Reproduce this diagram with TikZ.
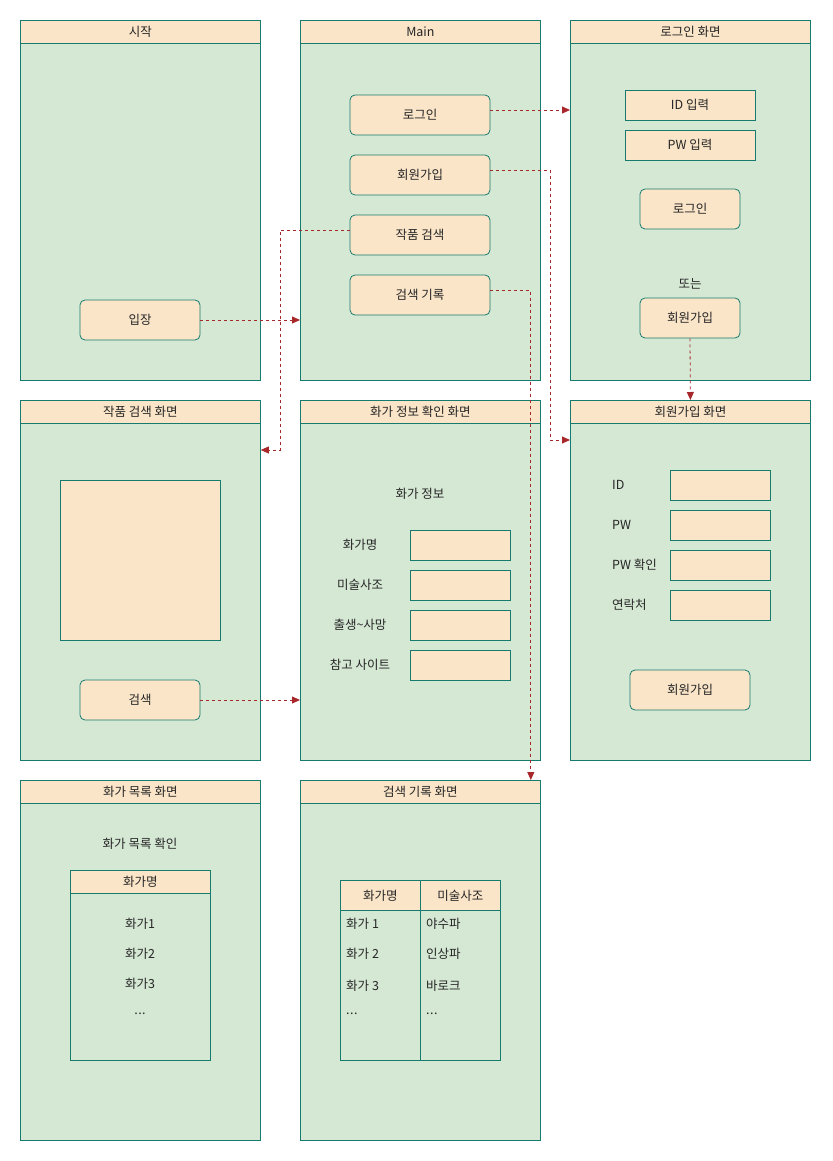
\documentclass[tikz,border=0pt]{standalone}
\usepackage{fontspec}
\setmainfont{Noto Sans CJK KR}
\usetikzlibrary{arrows.meta,positioning}
\definecolor{scrfill}{HTML}{D5E8D4}
\definecolor{scrline}{HTML}{167A6E}
\definecolor{btnfill}{HTML}{FAE5C8}
\definecolor{linkred}{HTML}{A8272A}
\newcommand{\etcdots}{.\kern0.5pt.\kern0.5pt.}
\tikzset{
  screen/.style={draw=scrline, fill=scrfill, line width=0.8pt, minimum width=240pt, minimum height=360pt, anchor=north west, inner sep=0pt},
  title/.style={draw=scrline, fill=btnfill, line width=0.8pt, minimum width=240pt, minimum height=23pt, anchor=north west, inner sep=0pt},
  btn/.style={draw=scrline, fill=btnfill, rounded corners=5pt, line width=0.8pt, minimum height=40pt, inner sep=0pt},
  field/.style={draw=scrline, fill=btnfill, line width=0.8pt, minimum width=100pt, minimum height=30pt, inner sep=0pt},
  cell/.style={draw=scrline, line width=0.8pt, anchor=north west, inner sep=0pt},
  lbl/.style={inner sep=0pt},
  link/.style={draw=linkred, dash pattern=on 3pt off 3pt, line width=0.8pt, -{Triangle[length=8pt,width=7pt]}},
}
\begin{document}
\begin{tikzpicture}[x=1pt,y=-1pt,font=\fontsize{12.5}{15}\selectfont,text=black!85]
\useasboundingbox[fill=white] (0,0) rectangle (832,1161);
% screens: name/x/y/title
\foreach \n/\x/\y/\t in {start/20/20/시작, main/300/20/Main, loginscr/570/20/로그인 화면,
  findscr/20/400/작품 검색 화면, infoscr/300/400/화가 정보 확인 화면, joinscr/570/400/회원가입 화면,
  listscr/20/780/화가 목록 화면, histscr/300/780/검색 기록 화면}
{
  \node[screen] (\n) at (\x,\y) {};
  \node[title] (\n-t) at (\x,\y) {\t};
}
% start
\node[btn, minimum width=120pt] (enter) at (140,320) {입장};
% main menu
\foreach \n/\y/\t in {login/115/로그인, join/175/회원가입, find/235/작품 검색, hist/295/검색 기록}
  \node[btn, minimum width=140pt] (\n) at (420,\y) {\t};
% login screen
\node[field, minimum width=130pt] (idin) at (690,105) {ID 입력};
\node[field, minimum width=130pt] (pwin) at (690,145) {PW 입력};
\node[btn, minimum width=100pt] (login2) at (690,209) {로그인};
\node[lbl] (or) at (690,284) {또는};
\node[btn, minimum width=100pt] (join2) at (690,318) {회원가입};
% artwork search screen
\node[field, minimum width=160pt, minimum height=160pt] (result) at (140,560) {};
\node[btn, minimum width=120pt] (search) at (140,700) {검색};
% painter info screen
\node[lbl] (info) at (420,494) {화가 정보};
\foreach \n/\y/\t in {name/545/화가명, style/585/미술사조, life/625/출생\textasciitilde 사망, site/665/참고 사이트}
{
  \node[lbl] (\n-l) at (360,\y) {\t};
  \node[field] (\n) at (460,\y) {};
}
% join screen
\foreach \n/\y/\t in {uid/485/ID, upw/525/PW, upw2/565/PW 확인, tel/605/연락처}
{
  \node[lbl, anchor=west] (\n-l) at (612,\y) {\t};
  \node[field] (\n) at (720,\y) {};
}
\node[btn, minimum width=120pt] (join3) at (690,690) {회원가입};
% painter list screen
\node[lbl] (listhead) at (140,844) {화가 목록 확인};
\node[cell, minimum width=140pt, minimum height=190pt] (list) at (70,870) {};
\node[cell, fill=btnfill, minimum width=140pt, minimum height=23pt] (list-t) at (70,870) {화가명};
\foreach \t [count=\i] in {화가1, 화가2, 화가3, \etcdots}
  \node[lbl] (item\i) at (140,894+30*\i) {\t};
% search history screen
\node[cell, minimum width=80pt, minimum height=180pt] (colA) at (340,880) {};
\node[cell, minimum width=80pt, minimum height=180pt] (colB) at (420,880) {};
\node[cell, fill=btnfill, minimum width=80pt, minimum height=30pt] (colA-t) at (340,880) {화가명};
\node[cell, fill=btnfill, minimum width=80pt, minimum height=30pt] (colB-t) at (420,880) {미술사조};
\foreach \a/\b/\y [count=\i] in {화가 1/야수파/924, 화가 2/인상파/954, 화가 3/바로크/986, \etcdots/\etcdots/1014}
{
  \node[lbl, anchor=west] (rowA\i) at (346,\y) {\a};
  \node[lbl, anchor=west] (rowB\i) at (426,\y) {\b};
}
% links
\coordinate (bend1) at (550,440);
\coordinate (bend2) at (280,450);
\draw[link] (enter.east) -- (main.west |- enter.east);
\draw[link] ([yshift=5pt]login.east) -- ([yshift=5pt]login.east -| loginscr.west);
\draw[link] ([yshift=5pt]join.east) -| (bend1) -- (bend1 -| joinscr.west);
\draw[link] ([yshift=5pt]find.west) -| (bend2) -- (bend2 -| findscr.east);
\draw[link] ([yshift=5pt]hist.east) -| ([xshift=-10pt]histscr.north east);
\draw[link] (join2.south) -- (joinscr.north);
\draw[link] (search.east) -- (infoscr.west |- search.east);
\end{tikzpicture}
\end{document}
